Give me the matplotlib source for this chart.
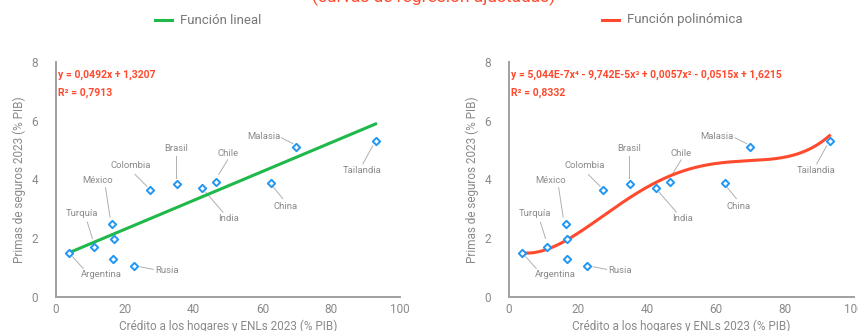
import numpy as np
import matplotlib
matplotlib.use('Agg')
import matplotlib.pyplot as plt

plt.rcParams['font.family'] = ['Roboto', 'DejaVu Sans']

# datos
paises = ['Argentina', 'Turquía', 'México', '', '', 'Rusia', 'Colombia',
          'Brasil', 'India', 'Chile', 'China', 'Malasia', 'Tailandia']
credito = [3.9, 11.1, 16.4, 16.9, 16.7, 22.7, 27.3, 35.2, 42.5, 46.6, 62.5, 69.9, 92.9]
primas = [1.50, 1.70, 2.47, 1.96, 1.30, 1.07, 3.63, 3.85, 3.70, 3.93, 3.89, 5.12, 5.31]

lin_coef = [0.0492, 1.3207]
poly_coef = [5.044e-7, -9.742e-5, 0.0057, -0.0515, 1.6215]

x_ticks = [0, 20, 40, 60, 80, 100]
y_ticks = [0, 2, 4, 6, 8]

# posicion de etiqueta (texto) y linea guia: (tx, ty, x0, y0, x1, y1)
etiquetas = {
    'Argentina': (13.3, 0.76, 4.85, 1.37, 7.9, 0.97),
    'Turquía': (7.65, 2.84, 9.1, 2.55, 10.6, 1.99),
    'México': (12.0, 3.97, 14.4, 3.72, 15.7, 2.72),
    'Rusia': (32.2, 0.89, 24.4, 1.03, 28.3, 0.94),
    'Colombia': (21.8, 4.47, 23.0, 4.17, 26.4, 3.77),
    'Brasil': (34.8, 5.07, 34.9, 4.81, 34.9, 4.06),
    'India': (50.2, 2.67, 43.5, 3.57, 48.5, 2.89),
    'Chile': (49.9, 4.90, 49.9, 4.67, 47.3, 4.17),
    'China': (66.6, 3.08, 63.2, 3.74, 65.9, 3.35),
    'Malasia': (60.3, 5.47, 65.5, 5.42, 68.9, 5.22),
    'Tailandia': (88.9, 4.29, 89.2, 4.53, 92.1, 5.15),
}

gris = '#8a8a8a'
rojo = '#ff4a2e'
verde = '#1fb84a'
azul = '#2196f3'

fig = plt.figure(figsize=(8.58, 3.31), dpi=100)

fig.text(434 / 858, 1 - 2 / 331, '(curvas de regresión ajustadas)', color=rojo,
         fontsize=12.5, ha='center', va='baseline')


def panel(ax, fx, color, eq_text, r2_text, leyenda, leg_x):
    ax.set_xlim(0, 100)
    ax.set_ylim(0, 8)
    ax.set_xticks(x_ticks)
    ax.set_yticks(y_ticks)
    ax.tick_params(length=0, colors=gris, labelsize=8.5)
    ax.tick_params(axis='y', pad=13)
    ax.tick_params(axis='x', pad=4)
    for s in ['top', 'right']:
        ax.spines[s].set_visible(False)
    for s in ['left', 'bottom']:
        ax.spines[s].set_color('#a0a0a0')
        ax.spines[s].set_linewidth(1.4)
    ax.set_xlabel('Crédito a los hogares y ENLs 2023 (% PIB)', color=gris, fontsize=8.5, labelpad=3)
    ax.set_ylabel('Primas de seguros 2023 (% PIB)', color=gris, fontsize=8.5, labelpad=4)

    xs = np.linspace(min(credito), max(credito), 300)
    ax.plot(xs, fx(xs), color=color, lw=2.2, zorder=2, clip_on=False)

    ax.scatter(credito, primas, marker='D', s=14, facecolor='white', edgecolor=azul,
               linewidth=1.4, zorder=3, clip_on=False)

    for p in paises:
        if not p:
            continue
        tx, ty, x0, y0, x1, y1 = etiquetas[p]
        ax.text(tx, ty, p, color=gris, fontsize=6.8, ha='center', va='center', zorder=4)
        ax.plot([x0, x1], [y0, y1], color='#b0b0b0', lw=0.7, zorder=1)

    ax.text(0.5, 7.55, eq_text, color=rojo, fontsize=7.5, fontweight='bold',
            ha='left', va='center', zorder=5)
    ax.text(0.5, 6.95, r2_text, color=rojo, fontsize=7.5, fontweight='bold',
            ha='left', va='center', zorder=5)

    lx0, lx1, ly = leg_x
    fig.add_artist(plt.Line2D([lx0 / 858, lx1 / 858], [1 - ly / 331] * 2, color=color, lw=2.2))
    fig.text((lx1 + 8) / 858, 1 - ly / 331, leyenda, color='#777777', fontsize=9.5,
             ha='left', va='center')


ax1 = fig.add_axes([56 / 858, 34 / 331, 344 / 858, 235 / 331])
panel(ax1, lambda x: np.polyval(lin_coef, x), verde,
      'y = 0,0492x + 1,3207', 'R² = 0,7913', 'Función lineal', (155, 172, 20))

ax2 = fig.add_axes([509 / 858, 34 / 331, 345 / 858, 235 / 331])
panel(ax2, lambda x: np.polyval(poly_coef, x), rojo,
      'y = 5,044E-7x⁴ - 9,742E-5x³ + 0,0057x² - 0,0515x + 1,6215', 'R² = 0,8332',
      'Función polinómica', (602, 619, 20))

fig.savefig('out.png', dpi=100)
